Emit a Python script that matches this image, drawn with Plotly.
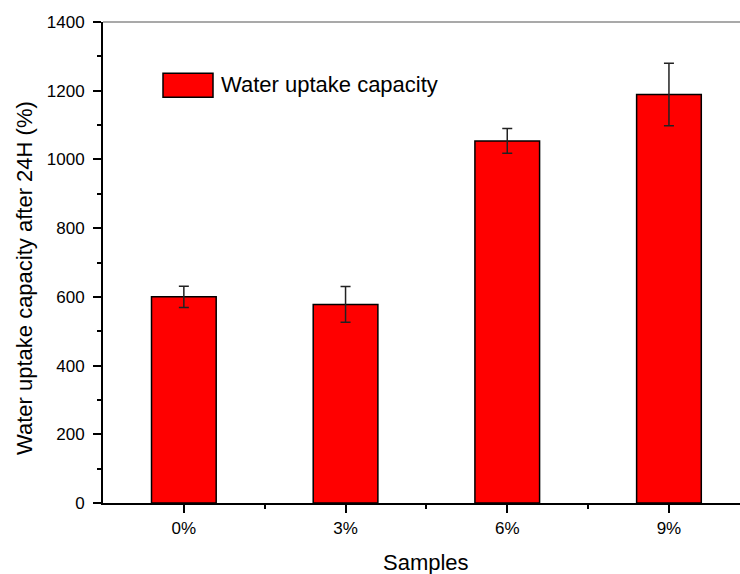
import plotly.graph_objects as go

categories = ["0%", "3%", "6%", "9%"]
uptake = [600, 578, 1054, 1189]
uptake_err = [31, 52, 36, 91]
y_ticks = [0, 200, 400, 600, 800, 1000, 1200, 1400]

x_pos = list(range(len(categories)))
W, H = 740, 574
L, R, T, B = 103, 0, 22, 71
pw, ph = W - L - R, H - T - B
FONT = "Liberation Sans, Arial, sans-serif"

fig = go.Figure()
fig.add_trace(go.Bar(
    x=x_pos, y=uptake, width=0.4,
    marker=dict(color="#ff0000", line=dict(color="black", width=1.5)),
    error_y=dict(type="data", array=uptake_err, visible=True,
                 color="#222222", thickness=1.5, width=5),
    name="Water uptake capacity", showlegend=False,
))

def px_x(px):
    return (px - L) / pw

def px_y(py):
    return (H - B - py) / ph

fig.update_layout(
    width=W, height=H,
    margin=dict(l=L, r=R, t=T, b=B, pad=0),
    paper_bgcolor="white", plot_bgcolor="white",
    font=dict(family=FONT, color="black", size=17),
    xaxis=dict(
        range=[-0.5, -0.5 + pw / 161.7],
        tickmode="array", tickvals=x_pos, ticktext=categories,
        ticks="outside", ticklen=8, tickwidth=2, tickcolor="black",
        showline=True, linecolor="black", linewidth=2,
        showgrid=False, zeroline=False,
        ticklabelstandoff=1,
        minor=dict(tickmode="array", tickvals=[0.5, 1.5, 2.5],
                   ticks="outside", ticklen=4, tickwidth=2, tickcolor="black"),
        tickfont=dict(size=17),
    ),
    yaxis=dict(
        range=[0, 1400],
        tickmode="array", tickvals=y_ticks,
        ticks="outside", ticklen=8, tickwidth=2, tickcolor="black",
        showline=True, linecolor="black", linewidth=2,
        showgrid=False, zeroline=False,
        ticklabelstandoff=5,
        minor=dict(dtick=100, tick0=0, ticks="outside", ticklen=4,
                   tickwidth=2, tickcolor="black"),
        tickfont=dict(size=17),
    ),
    shapes=[
        dict(type="line", xref="paper", yref="paper", x0=0, x1=1, y0=1, y1=1,
             line=dict(color="#555555", width=1.2)),
        dict(type="rect", xref="paper", yref="paper",
             x0=px_x(163), x1=px_x(213), y0=px_y(97.3), y1=px_y(73.3),
             fillcolor="#ff0000", line=dict(color="black", width=1.5)),
    ],
    annotations=[
        dict(text="Water uptake capacity", xref="paper", yref="paper",
             x=px_x(219), y=px_y(85), xanchor="left", yanchor="middle",
             showarrow=False, font=dict(size=22)),
        dict(text="Water uptake capacity after 24H (%)", xref="paper", yref="paper",
             x=px_x(24), y=px_y(278), xanchor="center", yanchor="middle",
             textangle=-90, showarrow=False, font=dict(size=22)),
        dict(text="Samples", xref="paper", yref="paper",
             x=px_x(426), y=px_y(562), xanchor="center", yanchor="middle",
             showarrow=False, font=dict(size=22)),
    ],
)

fig.write_html("out.html")
